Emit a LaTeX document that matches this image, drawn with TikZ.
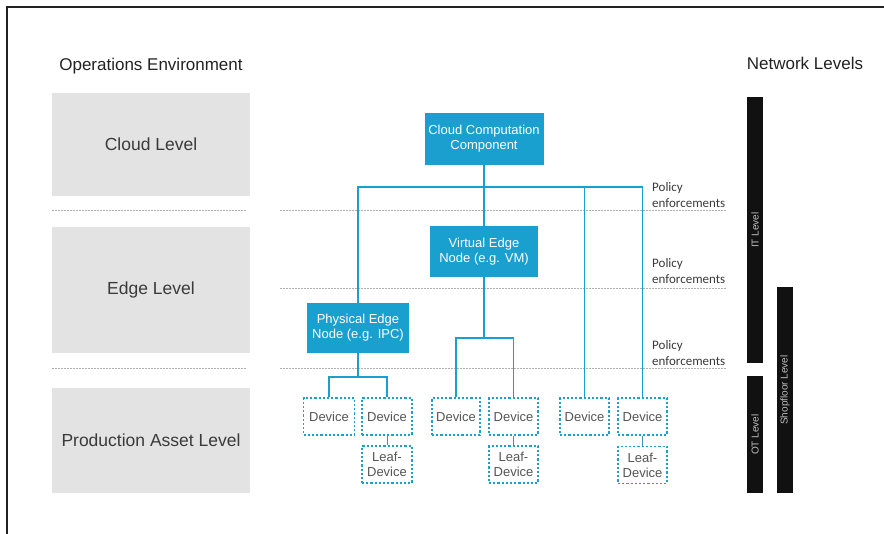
\documentclass[tikz,border=0pt]{standalone}
\usepackage{fontspec}
\setmainfont{Liberation Sans}
\newfontfamily\policyfont{Carlito}
\usetikzlibrary{
  positioning,
  calc,
}
\definecolor{frameCol}{HTML}{222222}
\definecolor{levelGray}{HTML}{E3E3E3}
\definecolor{textMain}{HTML}{3A3A3A}
\definecolor{textSub}{HTML}{555555}
\definecolor{nodeBlue}{HTML}{1AA0CE}
\definecolor{sepGray}{HTML}{B0B0B0}
\definecolor{barBlack}{HTML}{111111}
\tikzset{
  levelbox/.style={
    rectangle, fill=levelGray, minimum width=198pt, align=center,
    font=\fontsize{17.5}{20}\selectfont, text=textMain, inner sep=0pt,
  },
  bluebox/.style={
    rectangle, fill=nodeBlue, align=center, inner sep=1pt,
    font=\fontsize{13}{15}\selectfont, text=white,
  },
  devbox/.style={
    rectangle, draw=nodeBlue, fill=white, line width=1.1pt,
    dash pattern=on 2.2pt off 2pt, align=center, inner sep=1pt,
    minimum width=49pt, minimum height=37pt,
    font=\fontsize{13}{15}\selectfont, text=textSub,
  },
  netbar/.style={
    rectangle, fill=barBlack, minimum height=16pt, inner sep=0pt,
    font=\fontsize{10}{11}\selectfont, text=white!75!black,
  },
  link/.style={draw=nodeBlue, line width=1.6pt},
  leaflink/.style={draw=nodeBlue!60!gray, line width=0.8pt},
  sepline/.style={draw=sepGray, line width=0.8pt, dash pattern=on 1.5pt off 1.5pt},
  heading/.style={font=\fontsize{17}{20}\selectfont, text=frameCol},
  policy/.style={font=\policyfont\fontsize{13}{16}\selectfont, text=textMain, align=left, anchor=west, inner sep=0pt},
}

\begin{document}
\begin{tikzpicture}[x=1pt, y=-1pt]

  \useasboundingbox (0,0) rectangle (884,534);
  \draw[frameCol, line width=1.3pt] (7,534) -- (7,7) -- (884,7);

  % Operations environment
  \node[heading] (opsTitle) at (151,66) {Operations Environment};
  \node[levelbox, minimum height=103pt] (cloudLvl) at (151,144.5) {Cloud Level};
  \node[levelbox, minimum height=126pt] (edgeLvl) at (151,290) {Edge Level};
  \node[levelbox, minimum height=105pt] (prodLvl) at (151,440.5) {Production Asset Level};

  \draw[sepline] (52,210) -- (246,210);
  \draw[sepline] (52,368) -- (246,368);
  \draw[sepline] (280,210) -- (727,210);
  \draw[sepline] (280,288) -- (727,288);
  \draw[sepline] (280,368) -- (727,368);

  % Cloud and edge components
  \node[bluebox, minimum width=119pt, minimum height=52pt] (cc) at (484,139) {Cloud Computation\\Component};
  \node[bluebox, minimum width=108pt, minimum height=51pt] (ven) at (484,251.5) {Virtual Edge\\Node (e.g. VM)};
  \node[bluebox, minimum width=102pt, minimum height=50pt] (pen) at (358,328) {Physical Edge\\Node (e.g. IPC)};

  % Devices
  \node[devbox, minimum width=51pt] (d1) at (329,416.5) {Device};
  \node[devbox, minimum width=50pt] (d2) at (387,416.5) {Device};
  \node[devbox, minimum width=50pt] (leaf1) at (387,464.5) {Leaf-\\Device};
  \node[devbox, minimum width=48pt] (d3) at (456,416.5) {Device};
  \node[devbox] (d4) at (513.5,416.5) {Device};
  \node[devbox] (leaf2) at (513.5,464.5) {Leaf-\\Device};
  \node[devbox] (d5) at (584.5,416.5) {Device};
  \node[devbox] (d6) at (642.5,416.5) {Device};
  \node[devbox] (leaf3) at (642.5,465) {Leaf-\\Device};

  % Connections
  \coordinate (bus) at (484,187);
  \coordinate (pbus) at (358,377);
  \coordinate (vbus) at (484,338);

  \draw[link] (cc.south) -- (ven.north);
  \draw[link] (pen.north) |- (bus) -| (d6.north);
  \draw[link] (bus) -| (d5.north);
  \draw[link] (pen.south) -- (pbus);
  \draw[link] (d1.north) |- (pbus) -| (d2.north);
  \draw[link] (ven.south) -- (vbus);
  \draw[link] (d3.north) |- (vbus) -| (d4.north);

  \draw[leaflink] (d2) -- (leaf1);
  \draw[leaflink] (d4) -- (leaf2);
  \draw[leaflink] (d6) -- (leaf3);

  % Policy enforcements
  \node[policy] (pol1) at (652,195) {Policy\\enforcements};
  \node[policy] (pol2) at (652,271) {Policy\\enforcements};
  \node[policy] (pol3) at (652,353) {Policy\\enforcements};

  % Network levels
  \node[heading] (netTitle) at (805,63) {Network Levels};
  \node[netbar, rotate=90, minimum width=266pt] (itLvl) at (755,230) {IT Level};
  \node[netbar, rotate=90, minimum width=117pt] (otLvl) at (755,434.5) {OT Level};
  \node[netbar, rotate=90, minimum width=206pt] (shopLvl) at (785,390) {Shopfloor Level};

\end{tikzpicture}
\end{document}
